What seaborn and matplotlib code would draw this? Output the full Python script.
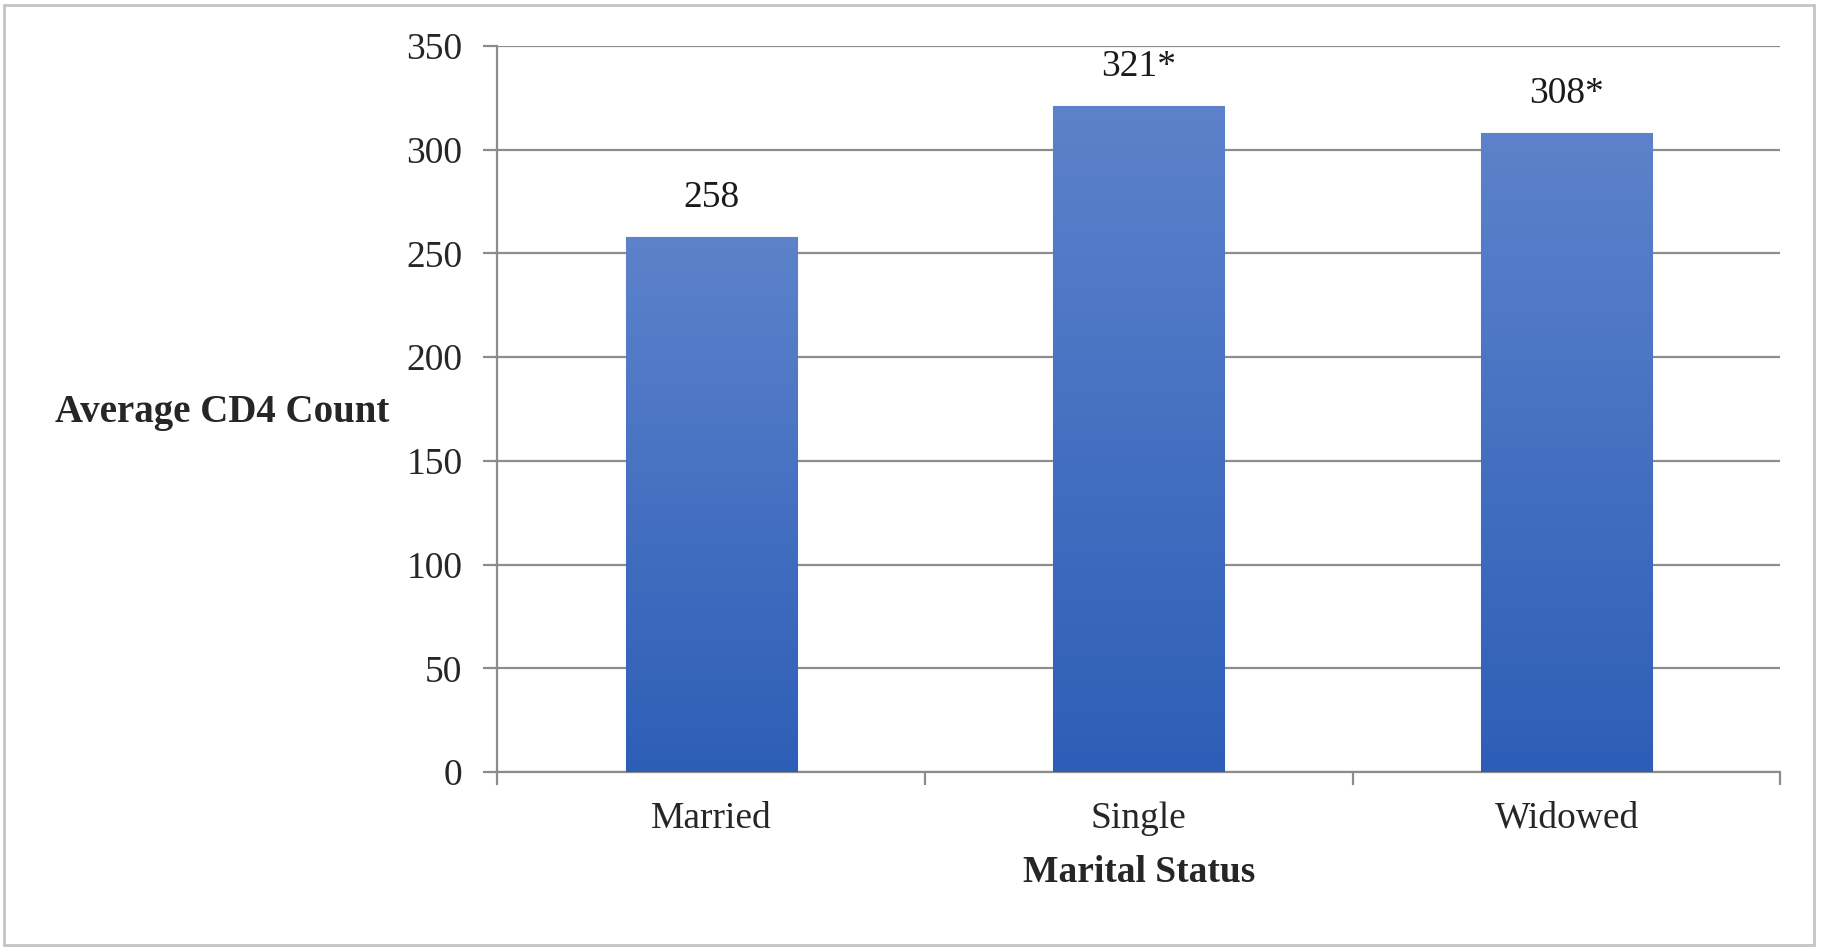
import matplotlib
matplotlib.use("Agg")
import matplotlib.pyplot as plt
from matplotlib.patches import Rectangle
from matplotlib.colors import LinearSegmentedColormap
import numpy as np
import pandas as pd
import seaborn as sns

# data
statuses = ["Married", "Single", "Widowed"]
cd4_means = [258, 321, 308]
bar_labels = ["258", "321*", "308*"]
y_ticks = [0, 50, 100, 150, 200, 250, 300, 350]

df = pd.DataFrame({"Marital Status": statuses, "CD4": cd4_means})

sns.set_style("white")
plt.rcParams["font.family"] = ["Liberation Serif", "DejaVu Serif"]

fig = plt.figure(figsize=(18.45, 9.5), dpi=100)
ax = fig.add_axes([0.2695, 0.1874, 0.6955, 0.7642])

sns.barplot(data=df, x="Marital Status", y="CD4", color="#4472C4",
            width=0.4, ax=ax, zorder=2)

# vertical gradient on each bar (light on top, darker at bottom)
grad_cmap = LinearSegmentedColormap.from_list("bar", ["#2D5EB7", "#5D82CB"])
grad = np.linspace(0, 1, 256).reshape(-1, 1)
for p in ax.patches:
    x0, y0 = p.get_x(), p.get_y()
    w, h = p.get_width(), p.get_height()
    im = ax.imshow(grad, cmap=grad_cmap, origin="lower", aspect="auto",
                   extent=[x0, x0 + w, y0, y0 + h], zorder=3)
    im.set_clip_path(p)
    p.set_edgecolor("#7E9BD6")
    p.set_linewidth(0.8)

ax.set_xlim(-0.5, 2.5)
ax.set_ylim(0, 350)
ax.set_yticks(y_ticks)

for i, lab in enumerate(bar_labels):
    ax.annotate(lab, (i, cd4_means[i]), xytext=(0, 16), textcoords="offset points",
                ha="center", va="bottom", fontsize=27, color="#1a1a1a")

ax.yaxis.grid(True, color="#8c8c8c", linewidth=1.6, zorder=0)
ax.set_axisbelow(True)
for s in ["top", "right"]:
    ax.spines[s].set_visible(False)
ax.spines["left"].set_color("#8c8c8c")
ax.spines["left"].set_linewidth(1.6)
ax.spines["bottom"].set_color("#8c8c8c")
ax.spines["bottom"].set_linewidth(1.6)

# category boundary ticks on the x axis
ax.set_xticks([-0.5, 0.5, 1.5, 2.5], minor=True)
ax.tick_params(axis="x", which="minor", length=9, width=1.6, color="#8c8c8c",
               direction="out", bottom=True)
ax.tick_params(axis="x", which="major", length=0, labelsize=27, pad=21,
               labelcolor="#262626")
ax.tick_params(axis="y", which="major", length=10, width=1.6, color="#8c8c8c",
               direction="out", left=True, labelsize=27, pad=15, labelcolor="#262626")

ax.set_xlabel("Marital Status", fontsize=27, fontweight="bold", labelpad=14)
ax.set_ylabel("")
fig.text(0.03, 0.566, "Average CD4 Count", fontsize=28, fontweight="bold",
         ha="left", va="center")

# light frame around the whole chart
fig.patches.append(Rectangle((0.002, 0.005), 0.981, 0.99, transform=fig.transFigure,
                             fill=False, edgecolor="#c4c4c4", linewidth=2))

fig.savefig("out.png", dpi=100)
